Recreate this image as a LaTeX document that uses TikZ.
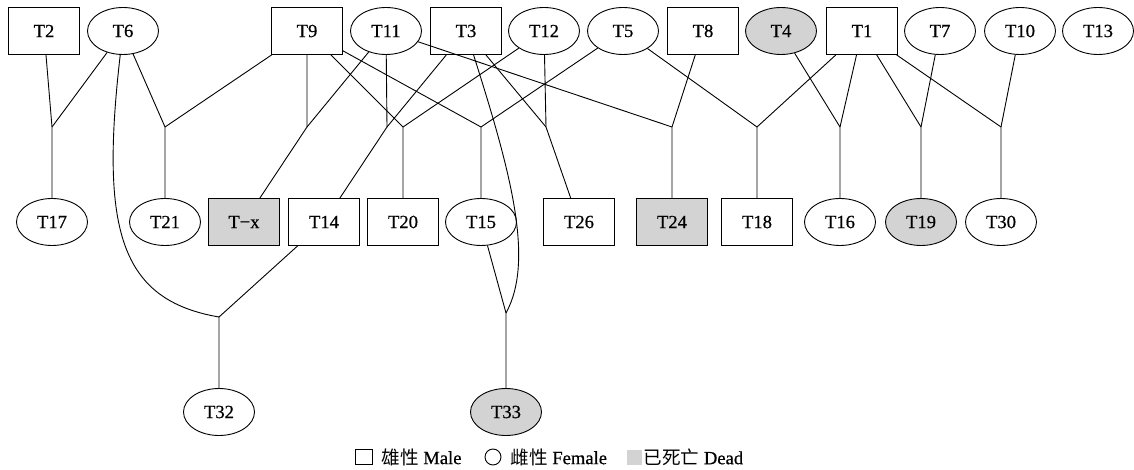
\documentclass[tikz,border=0pt]{standalone}
\usepackage{fontspec}
\setmainfont{Liberation Serif}[FakeBold=0.6]
\newfontfamily\cjk{Noto Sans CJK SC}
\usepackage{tikz}
\usetikzlibrary{shapes.geometric}
\definecolor{deadgray}{RGB}{211,211,211}

\begin{document}
\begin{tikzpicture}[x=0.5pt, y=-0.5pt, line width=0.45pt, font=\fontsize{9.3}{11}\selectfont,
    male/.style={draw, rectangle, minimum width=35.5pt, minimum height=23.5pt, inner sep=0pt},
    female/.style={draw, ellipse, minimum width=35.5pt, minimum height=23.5pt, inner sep=0pt},
    dead/.style={fill=deadgray}]
    \useasboundingbox (0,0) rectangle (1134,470);

    \node[male] (T2) at (44,31) {T2};
    \node[female] (T6) at (123,31) {T6};
    \node[male] (T9) at (307,31) {T9};
    \node[female] (T11) at (386,31) {T11};
    \node[male] (T3) at (466,31) {T3};
    \node[female] (T12) at (544,31) {T12};
    \node[female] (T5) at (623,31) {T5};
    \node[male] (T8) at (703,31) {T8};
    \node[female, dead] (T4) at (781,31) {T4};
    \node[male] (T1) at (862,31) {T1};
    \node[female] (T7) at (940,31) {T7};
    \node[female] (T10) at (1020,31) {T10};
    \node[female] (T13) at (1098,31) {T13};

    \node[female] (T17) at (52,222) {T17};
    \node[female] (T21) at (165,222) {T21};
    \node[male, dead] (Tx) at (244,222) {T\char"2212x};
    \node[male] (T14) at (324,222) {T14};
    \node[male] (T20) at (403,222) {T20};
    \node[female] (T15) at (481,222) {T15};
    \node[male] (T26) at (579,222) {T26};
    \node[male, dead] (T24) at (672,222) {T24};
    \node[male] (T18) at (757,222) {T18};
    \node[female] (T16) at (840,222) {T16};
    \node[female, dead] (T19) at (921,222) {T19};
    \node[female] (T30) at (1001,222) {T30};

    \node[female] (T32) at (219,412) {T32};
    \node[female, dead] (T33) at (506,412) {T33};

    \coordinate (J17) at (52,127);
    \coordinate (J21) at (165,127);
    \coordinate (Jx) at (307,127);
    \coordinate (J14) at (387,127);
    \coordinate (J20) at (403,127);
    \coordinate (J15) at (481,127);
    \coordinate (J26) at (546,127);
    \coordinate (J24) at (672,127);
    \coordinate (J18) at (757,127);
    \coordinate (J16) at (840,127);
    \coordinate (J19) at (921,127);
    \coordinate (J30) at (1001,127);
    \coordinate (J32) at (219,317);
    \coordinate (J33) at (506,313);

    \draw (T2) -- (J17) -- (T17);
    \draw (T6) -- (J17);
    \draw (T6) -- (J21) -- (T21);
    \draw (T9) -- (J21);
    \draw (T9) -- (Jx) -- (Tx);
    \draw (T11) -- (Jx);
    \draw (T11) -- (J14) -- (T14);
    \draw (T3) -- (J14);
    \draw (T9) -- (J20) -- (T20);
    \draw (T12) -- (J20);
    \draw (T9) -- (J15) -- (T15);
    \draw (T5) -- (J15);
    \draw (T3) -- (J26) -- (T26);
    \draw (T12) -- (J26);
    \draw (T11) -- (J24) -- (T24);
    \draw (T8) -- (J24);
    \draw (T5) -- (J18) -- (T18);
    \draw (T1) -- (J18);
    \draw (T4) -- (J16) -- (T16);
    \draw (T1) -- (J16);
    \draw (T1) -- (J19) -- (T19);
    \draw (T7) -- (J19);
    \draw (T1) -- (J30) -- (T30);
    \draw (T10) -- (J30);
    \draw (T6) .. controls (100,230) and (120,300) .. (J32) -- (T32);
    \draw (T14) -- (J32);
    \draw (T3) .. controls (510,170) and (535,260) .. (J33) -- (T33);
    \draw (T15) -- (J33);

    \node[draw, minimum width=8.5pt, minimum height=7.5pt, inner sep=0pt] (LgM) at (364,457) {};
    \node[anchor=west, inner sep=0pt] (LgMt) at (381,457) {{\cjk 雄性} Male};
    \node[draw, circle, minimum size=8pt, inner sep=0pt] (LgF) at (493,457) {};
    \node[anchor=west, inner sep=0pt] (LgFt) at (510,457) {{\cjk 雌性} Female};
    \node[fill=deadgray, minimum size=7.5pt, inner sep=0pt] (LgD) at (634,457) {};
    \node[anchor=west, inner sep=0pt] (LgDt) at (643,457) {{\cjk 已死亡} Dead};
\end{tikzpicture}
\end{document}
